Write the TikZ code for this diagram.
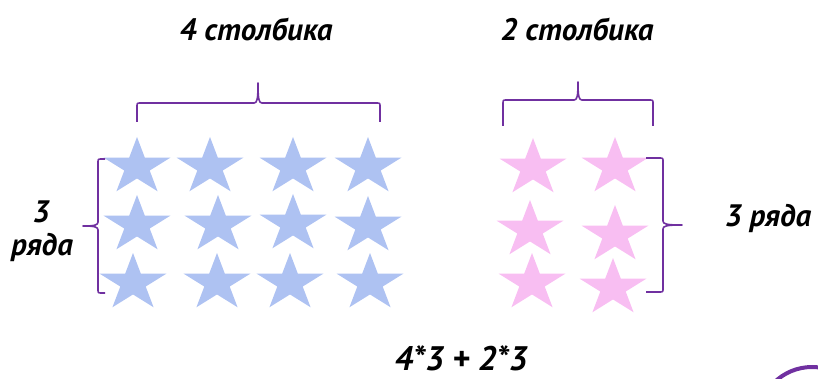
\documentclass[tikz,border=0pt]{standalone}
\usepackage{fontspec}
\setmainfont{PT Sans}
\definecolor{braceC}{HTML}{7030A0}
\definecolor{blueS}{HTML}{AEC2F2}
\definecolor{pinkS}{HTML}{F8BEF2}
\newcommand\starAt[3]{%
  \begin{scope}[shift={(#1,#2)}, xscale=35, yscale=30]
    \fill[#3] (-90:1) -- (-54:0.382) -- (-18:1) -- (18:0.382) -- (54:1) -- (90:0.382) -- (126:1) -- (162:0.382) -- (198:1) -- (234:0.382) -- cycle;
  \end{scope}}
\tikzset{
  bracestyle/.style={draw=braceC, line width=1.6pt, line join=round},
  lbl/.style={font=\bfseries\itshape\fontsize{31}{36}\selectfont, inner sep=0pt},
  eqlbl/.style={font=\bfseries\itshape\fontsize{34}{39}\selectfont, inner sep=0pt}
}
\begin{document}
\begin{tikzpicture}[x=1pt, y=-1pt]
\useasboundingbox (0,0) rectangle (818,379);
% blue stars
\starAt{137}{167}{blueS}\starAt{210}{167}{blueS}\starAt{293}{167}{blueS}\starAt{368}{167}{blueS}
\starAt{137}{225}{blueS}\starAt{218}{225}{blueS}\starAt{293}{224}{blueS}\starAt{368}{226}{blueS}
\starAt{133}{283}{blueS}\starAt{217}{283}{blueS}\starAt{290}{283}{blueS}\starAt{370}{283}{blueS}
% pink stars
\starAt{533}{168}{pinkS}\starAt{615}{167}{pinkS}
\starAt{530}{230}{pinkS}\starAt{615}{235}{pinkS}
\starAt{532}{283}{pinkS}\starAt{613}{288}{pinkS}
% top braces
\draw[bracestyle] (137,122) -- (137,107) .. controls (137,103) .. (141,103) -- (254,103)
  .. controls (257,103) and (258,100) .. (258,83)
  .. controls (258,100) and (259,103) .. (262,103) -- (376,103) .. controls (380,103) .. (380,107) -- (380,122);
\draw[bracestyle] (503,126) -- (503,104) .. controls (503,100) .. (507,100) -- (574,100)
  .. controls (577,100) and (578,97) .. (578,82)
  .. controls (578,97) and (579,100) .. (582,100) -- (649,100) .. controls (653,100) .. (653,104) -- (653,126);
% left brace
\draw[bracestyle] (105,159) -- (102,159) .. controls (98,159) .. (98,163) -- (98,222)
  .. controls (98,225) and (95,226) .. (83,226)
  .. controls (95,226) and (98,227) .. (98,230) -- (98,289) .. controls (98,293) .. (102,293) -- (105,293);
% right brace
\draw[bracestyle] (646,158) -- (659,158) .. controls (663,158) .. (663,162) -- (663,221)
  .. controls (663,224) and (666,225) .. (682,225)
  .. controls (666,225) and (663,226) .. (663,229) -- (663,288) .. controls (663,292) .. (659,292) -- (646,292);
% labels
\node[lbl] (t1) at (256,29) {4 столбика};
\node[lbl] (t2) at (577,29) {2 столбика};
\node[lbl] (l3) at (41,212) {3};
\node[lbl] (lr) at (42,247) {ряда};
\node[lbl] (r3) at (768,218) {3 ряда};
\node[eqlbl] (eq) at (461,358) {4*3 + 2*3};
% partial circle bottom right
\begin{scope}
\clip (0,0) rectangle (818,379);
\draw[braceC, line width=4pt] (812,421) circle[radius=54];
\end{scope}
\end{tikzpicture}
\end{document}
